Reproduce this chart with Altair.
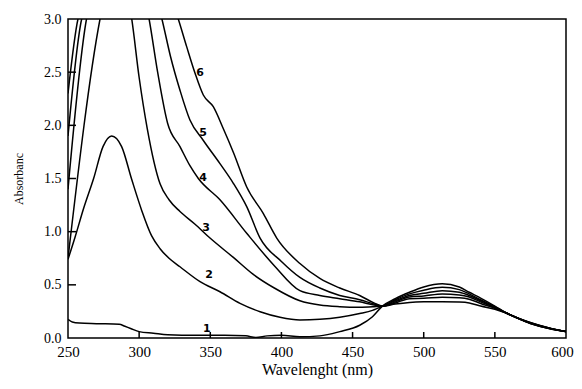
import altair as alt
import pandas as pd

# ---- data ----
post_wl = [471, 480, 490, 500, 513, 525, 532, 540, 550, 558, 575, 590, 600]

c1_wl = [250, 253, 258, 270, 286, 290, 294, 300, 310, 320, 340, 360, 375, 382, 390, 400, 413, 427, 441, 455, 464]
c1_ab = [0.175, 0.15, 0.14, 0.135, 0.13, 0.11, 0.09, 0.06, 0.045, 0.03, 0.025, 0.025, 0.02, 0.005, 0.02, 0.025, 0.012, 0.02, 0.06, 0.12, 0.20]
c1_post = [0.30, 0.37, 0.43, 0.48, 0.51, 0.48, 0.43, 0.375, 0.30, 0.235, 0.145, 0.088, 0.058]

c2_wl = [250, 255, 261, 268, 274.6, 280.7, 287.7, 294.8, 301.8, 308.8, 314.7, 321, 328.7, 342.8, 356.8, 370.9, 385, 399, 413, 427, 441, 455, 464]
c2_ab = [0.74, 0.95, 1.22, 1.50, 1.80, 1.90, 1.80, 1.49, 1.20, 0.96, 0.84, 0.75, 0.67, 0.53, 0.435, 0.326, 0.247, 0.195, 0.17, 0.176, 0.195, 0.23, 0.26]
c2_post = [0.30, 0.36, 0.415, 0.45, 0.477, 0.455, 0.415, 0.36, 0.295, 0.235, 0.143, 0.087, 0.059]

c3_wl = [250, 272.5, 283, 294.8, 300, 305.7, 314.7, 321, 328.7, 339.3, 349.8, 366, 380, 395, 413, 427, 441, 455, 465]
c3_ab = [0.75, 3.0, 3.6, 3.0, 2.45, 1.97, 1.45, 1.30, 1.19, 1.07, 0.94, 0.76, 0.60, 0.47, 0.35, 0.31, 0.295, 0.29, 0.295]
c3_post = [0.30, 0.35, 0.40, 0.42, 0.445, 0.43, 0.40, 0.35, 0.29, 0.235, 0.141, 0.086, 0.060]

c4_wl = [250, 263, 285, 307, 313, 320, 328.7, 335.7, 341.6, 356.8, 375.6, 395, 413, 427, 441, 455, 465]
c4_ab = [1.4, 3.0, 3.8, 3.0, 2.5, 2.02, 1.80, 1.62, 1.50, 1.30, 0.985, 0.68, 0.445, 0.40, 0.37, 0.34, 0.31]
c4_post = [0.30, 0.34, 0.385, 0.395, 0.414, 0.405, 0.385, 0.34, 0.285, 0.235, 0.139, 0.085, 0.061]

c5_wl = [250, 259.6, 290, 316, 322, 328.7, 335.7, 345, 356.8, 366.2, 375.6, 385, 400, 413, 427, 441, 455, 465]
c5_ab = [1.9, 3.0, 3.9, 3.0, 2.65, 2.33, 2.05, 1.86, 1.64, 1.455, 1.235, 0.94, 0.72, 0.57, 0.47, 0.40, 0.36, 0.32]
c5_post = [0.30, 0.33, 0.37, 0.373, 0.383, 0.378, 0.365, 0.325, 0.28, 0.235, 0.137, 0.084, 0.062]

c6_wl = [250, 257, 290, 327.5, 333.4, 339.3, 345.1, 352.1, 359.1, 366.4, 375.6, 387.3, 396.7, 413, 427, 441, 455, 465]
c6_ab = [2.3, 3.0, 4.0, 3.0, 2.74, 2.49, 2.285, 2.175, 1.97, 1.74, 1.42, 1.17, 0.94, 0.70, 0.56, 0.47, 0.40, 0.33]
c6_post = [0.30, 0.32, 0.335, 0.34, 0.341, 0.338, 0.33, 0.30, 0.27, 0.235, 0.135, 0.083, 0.063]

curve_names = ["1", "2", "3", "4", "5", "6"]
label_wl = [347.5, 349.1, 347.0, 344.9, 344.9, 342.8]
label_ab = [0.085, 0.59, 1.035, 1.505, 1.93, 2.495]

x_ticks = [250, 300, 350, 400, 450, 500, 550, 600]
y_ticks = [0.0, 0.5, 1.0, 1.5, 2.0, 2.5, 3.0]
x_inner_ticks = [300, 350, 400, 450, 500, 550]
y_inner_ticks = [0.5, 1.0, 1.5, 2.0, 2.5]

# ---- build table ----
series = {
    "1": (c1_wl + post_wl, c1_ab + c1_post),
    "2": (c2_wl + post_wl, c2_ab + c2_post),
    "3": (c3_wl + post_wl, c3_ab + c3_post),
    "4": (c4_wl + post_wl, c4_ab + c4_post),
    "5": (c5_wl + post_wl, c5_ab + c5_post),
    "6": (c6_wl + post_wl, c6_ab + c6_post),
}
rows = []
for name, (wl, ab) in series.items():
    for i, (w, a) in enumerate(zip(wl, ab)):
        rows.append({"curve": name, "wl": w, "ab": a, "order": i})
df = pd.DataFrame(rows)
labels_df = pd.DataFrame({"txt": curve_names, "wl": label_wl, "ab": label_ab})
xt_df = pd.DataFrame({"v": x_inner_ticks})
yt_df = pd.DataFrame({"v": y_inner_ticks})

W, H = 498, 319
xs = alt.Scale(domain=[250, 600], nice=False, zero=False)
ys = alt.Scale(domain=[0, 3], nice=False, zero=False)

lines = alt.Chart(df).mark_line(
    color="black", strokeWidth=1.5, clip=True, interpolate="monotone"
).encode(
    x=alt.X("wl:Q", scale=xs, axis=alt.Axis(
        values=x_ticks, title="Wavelenght (nm)", labelFontSize=15,
        titleFontSize=16, titlePadding=2, labelPadding=6, format="d",
        labelFlush=False,
        labelOffset=alt.condition("datum.value == 600", alt.value(-4), alt.value(0)))),
    y=alt.Y("ab:Q", scale=ys, axis=alt.Axis(
        values=y_ticks, format=".1f", title="Absorbanc", labelFontSize=14,
        titleFontSize=12, titlePadding=18, labelPadding=7, labelFlush=False)),
    detail="curve:N",
    order="order:Q",
)

labels = alt.Chart(labels_df).mark_text(
    font="DejaVu Sans", fontWeight="bold", fontSize=11, color="black"
).encode(
    x=alt.X("wl:Q", scale=xs),
    y=alt.Y("ab:Q", scale=ys),
    text="txt:N",
)

xticks = alt.Chart(xt_df).mark_rule(color="black", strokeWidth=1.5).encode(
    x=alt.X("v:Q", scale=xs),
    y=alt.value(H),
    y2=alt.value(H - 6),
)
yticks = alt.Chart(yt_df).mark_rule(color="black", strokeWidth=1.5).encode(
    y=alt.Y("v:Q", scale=ys),
    x=alt.value(0),
    x2=alt.value(8),
)

chart = alt.layer(lines, labels, xticks, yticks).properties(
    width=W, height=H,
    autosize=alt.AutoSizeParams(type="none"),
    padding={"left": 60, "top": 11, "right": 8, "bottom": 43},
    background="white",
).configure_view(
    stroke="black", strokeWidth=1.5
).configure_axis(
    domain=False, ticks=False, grid=False,
    labelFont="Liberation Serif", titleFont="Liberation Serif",
    labelColor="black", titleColor="black", titleFontWeight="normal",
)

chart.save("out.html", embed_options={"renderer": "svg", "actions": False})
